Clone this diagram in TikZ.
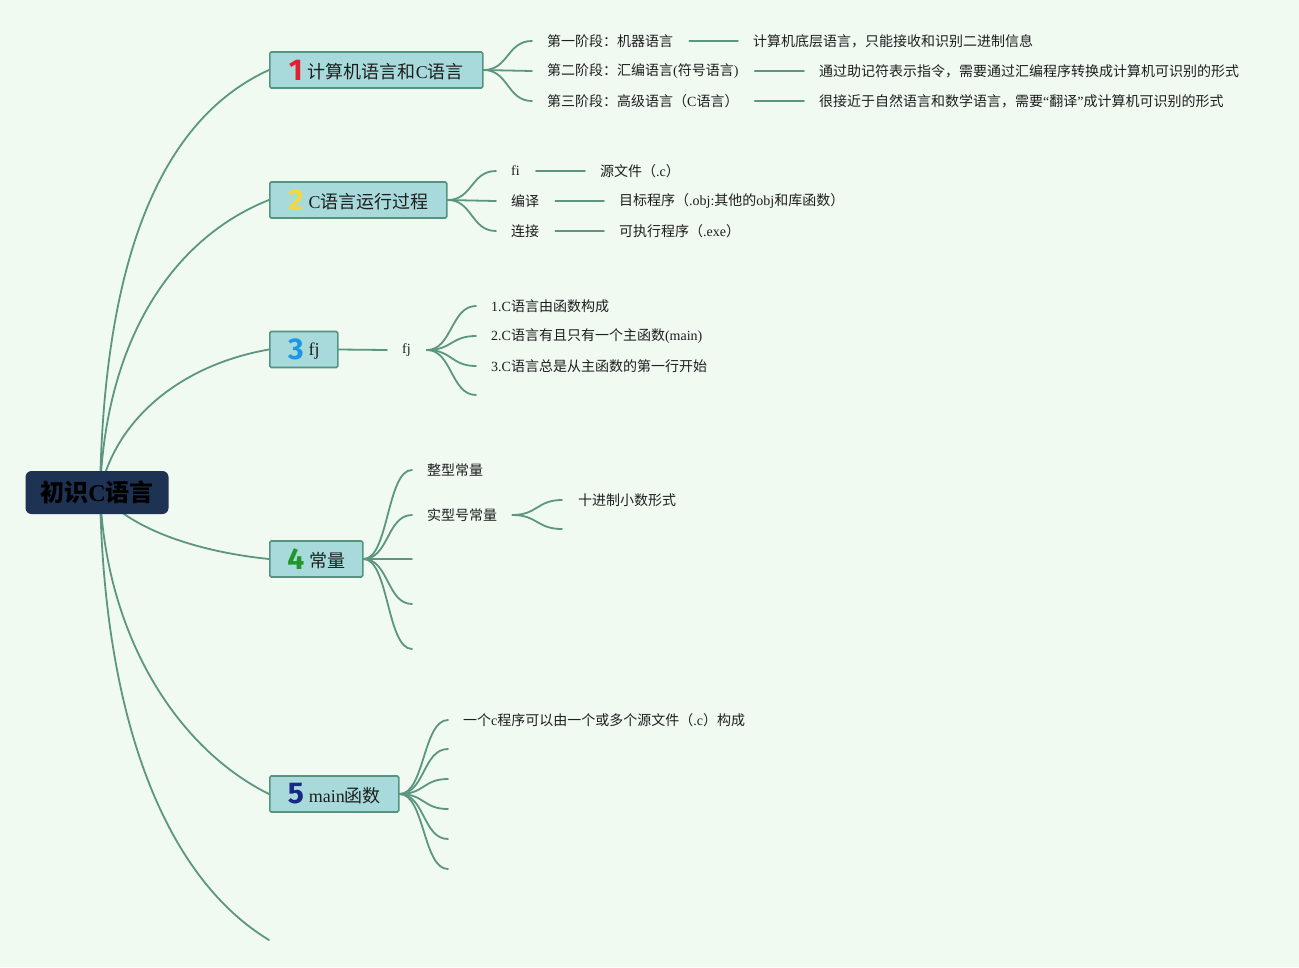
\documentclass[tikz,border=0pt]{standalone}
\usepackage{fontspec}
\setmainfont{Liberation Serif}
\newfontfamily\cjk{Noto Sans CJK SC}
\newfontfamily\digitfont{Fira Sans}
\newcommand\z[1]{{\cjk #1}}
\newcommand\numic[2]{\raisebox{-1.5pt}{\textcolor{#1}{\digitfont\bfseries\fontsize{30}{30}\selectfont #2}}\hspace{5pt}}
\definecolor{bgc}{RGB}{240,250,241}
\definecolor{linec}{RGB}{92,150,128}
\definecolor{nodefill}{RGB}{168,218,220}
\definecolor{nodeborder}{RGB}{84,148,128}
\definecolor{rootfill}{RGB}{30,50,84}
\definecolor{txt}{RGB}{30,30,30}
\definecolor{nA}{RGB}{226,30,48}
\definecolor{nB}{RGB}{245,215,60}
\definecolor{nC}{RGB}{30,150,230}
\definecolor{nD}{RGB}{30,150,40}
\definecolor{nE}{RGB}{25,40,130}
\pgfdeclarelayer{back}
\pgfdeclarelayer{lines}
\pgfsetlayers{back,lines,main}
\tikzset{
  conn/.style={draw=linec, line width=1.8pt, line cap=round},
  branch/.style={draw=nodeborder, fill=nodefill, line width=1.6pt, rounded corners=1.5pt,
    minimum height=36pt, inner sep=0pt, anchor=west, text=txt,
    font=\fontsize{18}{20}\selectfont},
  leaf/.style={anchor=west, inner sep=0pt, text=txt, font=\fontsize{14}{16}\selectfont},
  rootbox/.style={fill=rootfill, rounded corners=6pt, minimum width=143pt, minimum height=43pt,
    inner sep=0pt, text=black, font=\fontsize{24}{28}\selectfont\bfseries}
}
\newcommand\fan[2]{\draw[conn] (#1) .. controls +(25,0) and +(-25,0) .. (#2);}
\begin{document}
\begin{tikzpicture}[x=1pt,y=-1pt]
\begin{pgfonlayer}{back}
\fill[bgc] (0,0) rectangle (1299,967);
\end{pgfonlayer}
\useasboundingbox (0,0) rectangle (1299,967);

% root
\node[rootbox] (root) at (97,492.5) {\z{初识}C\z{语言}};
\coordinate (rc) at (100,492);

% branch nodes
\node[branch, minimum width=213pt] (b1) at (269,70) {\numic{nA}{1}\z{计算机语言和}C\z{语言}};
\node[branch, minimum width=177pt] (b2) at (269,200) {\numic{nB}{2}C\z{语言运行过程}};
\node[branch, minimum width=68pt] (b3) at (269,349.5) {\numic{nC}{3}\raisebox{3pt}{fj}};
\node[branch, minimum width=93pt] (b4) at (269,559) {\numic{nD}{4}\z{常量}};
\node[branch, minimum width=129pt] (b5) at (269,794) {\numic{nE}{5}main\z{函数}};
\coordinate (b6) at (269,940);

% branch 1 children
\node[leaf] (c11) at (547,41) {\z{第一阶段：机器语言}};
\node[leaf] (c12) at (547,71) {\z{第二阶段：汇编语言}(\z{符号语言})};
\node[leaf] (c13) at (547,101) {\z{第三阶段：高级语言（}C\z{语言）}};
\node[leaf] (g11) at (753,41) {\z{计算机底层语言，只能接收和识别二进制信息}};
\node[leaf] (g12) at (819,71) {\z{通过助记符表示指令，需要通过汇编程序转换成计算机可识别的形式}};
\node[leaf] (g13) at (819,101) {\z{很接近于自然语言和数学语言，需要}“\z{翻译}”\z{成计算机可识别的形式}};

% branch 2 children
\node[leaf] (c21) at (511,171) {f\kern0pt i};
\node[leaf] (c22) at (511,201) {\z{编译}};
\node[leaf] (c23) at (511,231) {\z{连接}};
\node[leaf] (g21) at (600,171) {\z{源文件（}.c\z{）}};
\node[leaf] (g22) at (619,201) {\z{目标程序（}.obj:\z{其他的}obj\z{和库函数）}};
\node[leaf] (g23) at (619,231) {\z{可执行程序（}.exe\z{）}};

% branch 3 children
\node[leaf] (f3) at (402,350) {fj};
\node[leaf] (c31) at (491,306) {1.C\z{语言由函数构成}};
\node[leaf] (c32) at (491,336) {2.C\z{语言有且只有一个主函数}(main)};
\node[leaf] (c33) at (491,366) {3.C\z{语言总是从主函数的第一行开始}};
\coordinate (e34) at (476,395);

% branch 4 children
\node[leaf] (c41) at (427,470) {\z{整型常量}};
\node[leaf] (c42) at (427,515) {\z{实型号常量}};
\coordinate (e43) at (412,559);
\coordinate (e44) at (412,604);
\coordinate (e45) at (412,649);
\node[leaf] (g42) at (578,500) {\z{十进制小数形式}};
\coordinate (e422) at (562,529);

% branch 5 children
\node[leaf] (c51) at (463,720) {\z{一个}c\z{程序可以由一个或多个源文件（}.c\z{）构成}};
\coordinate (e52) at (448,749);
\coordinate (e53) at (448,779);
\coordinate (e54) at (448,809);
\coordinate (e55) at (448,839);
\coordinate (e56) at (448,869);

\begin{pgfonlayer}{lines}
% root connectors
\draw[conn] (rc) .. controls (104,240) and (170,115) .. (b1.west);
\draw[conn] (rc) .. controls (106,330) and (180,235) .. (b2.west);
\draw[conn] (rc) .. controls (115,420) and (180,365) .. (b3.west);
\draw[conn] (rc) .. controls (130,530) and (200,552) .. (b4.west);
\draw[conn] (rc) .. controls (106,640) and (180,750) .. (b5.west);
\draw[conn] (rc) .. controls (104,730) and (170,880) .. (b6);

% branch 1
\fan{b1.east}{[xshift=-15pt]c11.west}
\fan{b1.east}{[xshift=-15pt]c12.west}
\fan{b1.east}{[xshift=-15pt]c13.west}
\draw[conn] ([xshift=16pt]c11.east) -- ([xshift=-15pt]g11.west);
\draw[conn] ([xshift=16pt]c12.east) -- ([xshift=-15pt]g12.west);
\draw[conn] ([xshift=16pt]c13.east) -- ([xshift=-15pt]g13.west);

% branch 2
\fan{b2.east}{[xshift=-15pt]c21.west}
\fan{b2.east}{[xshift=-15pt]c22.west}
\fan{b2.east}{[xshift=-15pt]c23.west}
\draw[conn] ([xshift=16pt]c21.east) -- ([xshift=-15pt]g21.west);
\draw[conn] ([xshift=16pt]c22.east) -- ([xshift=-15pt]g22.west);
\draw[conn] ([xshift=16pt]c23.east) -- ([xshift=-15pt]g23.west);

% branch 3
\draw[conn] (b3.east) -- ([xshift=-15pt]f3.west);
\fan{[xshift=16pt]f3.east}{[xshift=-15pt]c31.west}
\fan{[xshift=16pt]f3.east}{[xshift=-15pt]c32.west}
\fan{[xshift=16pt]f3.east}{[xshift=-15pt]c33.west}
\fan{[xshift=16pt]f3.east}{e34}

% branch 4
\fan{b4.east}{[xshift=-15pt]c41.west}
\fan{b4.east}{[xshift=-15pt]c42.west}
\fan{b4.east}{e43}
\fan{b4.east}{e44}
\fan{b4.east}{e45}
\fan{[xshift=15pt]c42.east}{[xshift=-16pt]g42.west}
\fan{[xshift=15pt]c42.east}{e422}

% branch 5
\fan{b5.east}{[xshift=-15pt]c51.west}
\fan{b5.east}{e52}
\fan{b5.east}{e53}
\fan{b5.east}{e54}
\fan{b5.east}{e55}
\fan{b5.east}{e56}
\end{pgfonlayer}
\end{tikzpicture}
\end{document}
